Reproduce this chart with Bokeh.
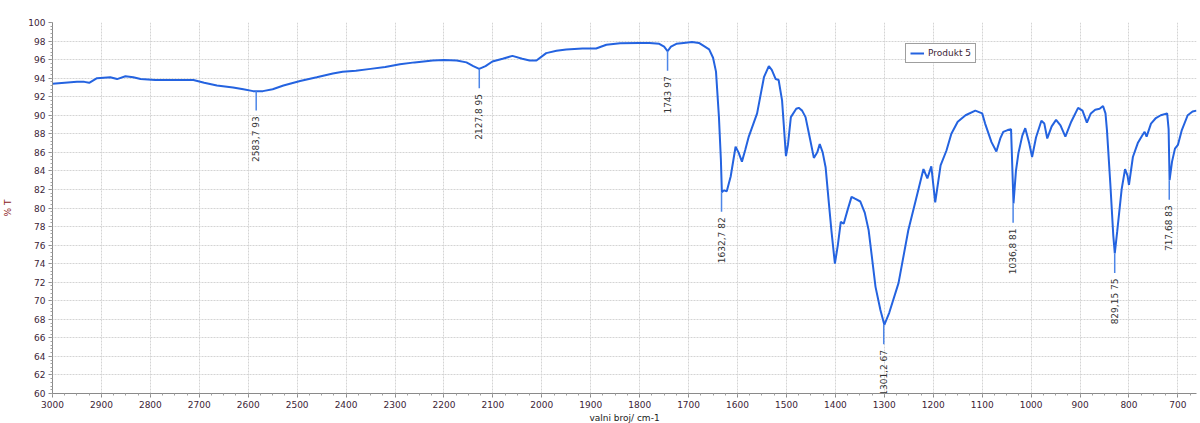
import numpy as np
from bokeh.plotting import figure
from bokeh.models import Range1d, SingleIntervalTicker, ColumnDataSource
from bokeh.embed import file_html
from bokeh.resources import INLINE
from bokeh.core.properties import value

# ---- data ----
wavenumber = [3000, 2975, 2950, 2935, 2925, 2909, 2882, 2868, 2851, 2835, 2820, 2790, 2767, 2740,
              2712, 2690, 2664, 2631, 2610, 2590, 2584, 2570, 2550, 2528, 2494, 2460, 2427, 2407,
              2380, 2350, 2320, 2290, 2260, 2223, 2200, 2174, 2154, 2140, 2128, 2115, 2101, 2080,
              2060, 2040, 2025, 2011, 1991, 1970, 1950, 1917, 1889, 1868, 1840, 1801, 1780, 1760,
              1750, 1743, 1736, 1725, 1710, 1693, 1679, 1670, 1658, 1650, 1644, 1638, 1634, 1632,
              1628, 1622, 1614, 1604, 1598, 1591, 1584, 1577, 1560, 1546, 1536, 1530, 1522, 1516,
              1509, 1501, 1497, 1491, 1480, 1475, 1468, 1461, 1452, 1444, 1437, 1432, 1426, 1420,
              1414, 1408, 1401, 1395, 1389, 1383, 1375, 1367, 1360, 1349, 1340, 1332, 1318, 1308,
              1300, 1290, 1271, 1251, 1235, 1220, 1212, 1204, 1196, 1185, 1173, 1163, 1150, 1134,
              1114, 1100, 1094, 1081, 1071, 1063, 1057, 1048, 1041, 1036, 1031, 1026, 1018, 1012,
              1004, 998, 990, 979, 973, 967, 958, 949, 940, 930, 918, 904, 895, 886, 878, 869, 860,
              853, 848, 845, 838, 832, 829, 824, 815, 808, 803, 800, 792, 782, 772, 768, 764, 755,
              745, 735, 722, 719, 717, 712, 706, 700, 692, 680, 670, 662]
transmittance = [93.4, 93.5, 93.6, 93.6, 93.5, 94.0, 94.1, 93.9, 94.2, 94.1, 93.9, 93.8, 93.8, 93.8,
                 93.8, 93.5, 93.2, 93.0, 92.8, 92.6, 92.6, 92.6, 92.8, 93.2, 93.7, 94.1, 94.5, 94.7,
                 94.8, 95.0, 95.2, 95.5, 95.7, 95.9, 95.95, 95.9, 95.7, 95.3, 95.0, 95.3, 95.8, 96.1,
                 96.4, 96.1, 95.9, 95.9, 96.7, 96.95, 97.1, 97.2, 97.2, 97.6, 97.75, 97.8, 97.8, 97.7,
                 97.4, 96.9, 97.4, 97.7, 97.8, 97.9, 97.8, 97.5, 97.1, 96.2, 94.7, 89.8, 85.2, 81.7,
                 81.9, 81.8, 83.4, 86.6, 86.0, 85.0, 86.3, 87.7, 90.2, 94.1, 95.3, 94.9, 93.9, 93.8,
                 91.6, 85.6, 86.8, 89.8, 90.7, 90.8, 90.5, 89.8, 87.5, 85.4, 86.0, 86.9, 86.0, 84.4,
                 80.9, 77.5, 74.0, 76.0, 78.5, 78.3, 79.8, 81.2, 81.0, 80.7, 79.5, 77.6, 71.5, 69.0,
                 67.4, 68.7, 71.9, 77.6, 81.0, 84.2, 83.2, 84.5, 80.6, 84.6, 86.2, 88.0, 89.3, 90.0,
                 90.5, 90.2, 89.1, 87.1, 86.1, 87.5, 88.2, 88.4, 88.5, 80.5, 84.0, 85.9, 87.8, 88.6,
                 87.0, 85.5, 87.6, 89.4, 89.1, 87.5, 88.8, 89.5, 88.9, 87.7, 89.3, 90.8, 90.5, 89.2,
                 90.2, 90.6, 90.7, 91.0, 90.2, 88.4, 82.5, 77.0, 75.1, 77.5, 82.0, 84.2, 83.5, 82.5,
                 85.5, 87.0, 87.9, 88.2, 87.7, 89.1, 89.7, 90.0, 90.2, 88.5, 83.0, 85.0, 86.4, 86.8,
                 88.4, 90.0, 90.4, 90.5]

peak_wn = [2583.7, 2127.8, 1743, 1632.7, 1301.2, 1036.8, 829.15, 717.68]
peak_t = [92.6, 95.0, 96.9, 81.7, 67.4, 80.5, 75.1, 83.0]
peak_text = ["2583,7  93", "2127,8  95", "1743  97", "1632,7  82", "1301,2  67",
             "1036,8  81", "829,15  75", "717,68  83"]

series_name = "Produkt 5"
x_label = "valni broj/ cm-1"
y_label = "% T"

LINE = "#2463e0"
TICK_COL = "#3c2436"
FONT = "DejaVu Sans"

p = figure(width=1198, height=427, output_backend="svg", toolbar_location=None,
           x_range=Range1d(3000, 662), y_range=Range1d(60, 100),
           min_border_left=50, min_border_right=2, min_border_top=22, min_border_bottom=34)
p.outline_line_color = None
p.background_fill_color = "white"
p.border_fill_color = "white"

p.xaxis.ticker = SingleIntervalTicker(interval=100, num_minor_ticks=4)
p.yaxis.ticker = SingleIntervalTicker(interval=2, num_minor_ticks=5)
for ax in (p.xaxis[0], p.yaxis[0]):
    ax.axis_line_color = "#8a8a8a"
    ax.major_tick_line_color = "#8a8a8a"
    ax.minor_tick_line_color = "#a0a0a0"
    ax.major_tick_out = 4
    ax.major_tick_in = 0
    ax.minor_tick_out = 2
    ax.minor_tick_in = 0
    ax.major_label_text_font = FONT
    ax.major_label_text_font_size = "9px"
    ax.major_label_text_color = TICK_COL
    ax.axis_label_text_font = FONT
    ax.axis_label_text_font_size = "9px"
    ax.axis_label_text_font_style = "normal"
p.xaxis.axis_label = x_label
p.xaxis.axis_label_text_color = "#202020"
p.xaxis.axis_label_standoff = 2
p.xaxis.major_label_standoff = 3
p.yaxis.axis_label = y_label
p.yaxis.axis_label_text_color = "#8b1a1a"
p.yaxis.axis_label_standoff = 12
p.yaxis.major_label_standoff = 3

p.xgrid.grid_line_color = "#d4d4d4"
p.ygrid.grid_line_color = "#d4d4d4"
p.xgrid.grid_line_dash = "2 1"
p.ygrid.grid_line_dash = "2 1"

p.line(wavenumber, transmittance, line_color=LINE, line_width=2, legend_label=series_name)

src = ColumnDataSource(dict(x=peak_wn, y=peak_t,
                            y1=[t - 2.1 for t in peak_t],
                            ty=[t - 2.4 for t in peak_t],
                            txt=peak_text))
p.segment(x0="x", y0="y", x1="x", y1="y1", source=src, line_color="#4d86e8", line_width=1.5)
p.text(x="x", y="ty", text="txt", source=src, angle=np.pi / 2, text_align="right",
       text_baseline="middle", text_font=value(FONT), text_font_size="9px", text_color="#333333")

lg = p.legend[0]
lg.location = (853, 330)
lg.border_line_color = "#404040"
lg.border_line_width = 1
lg.background_fill_alpha = 1
lg.padding = 4
lg.margin = 0
lg.spacing = 0
lg.glyph_width = 14
lg.glyph_height = 10
lg.label_standoff = 4
lg.label_text_font = FONT
lg.label_text_font_size = "9px"
lg.label_text_color = TICK_COL
lg.label_height = 10

html = file_html(p, INLINE)
html = html.replace("<head>", "<head><style>html,body{overflow:hidden;}</style>", 1)
open("out.html", "w").write(html)
